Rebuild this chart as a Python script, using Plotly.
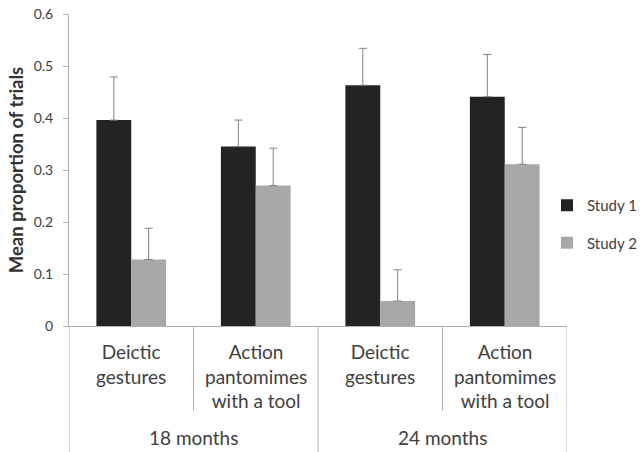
import plotly.graph_objects as go

categories = ["18-deictic", "18-action", "24-deictic", "24-action"]
category_labels = ["Deictic<br>gestures", "Action<br>pantomimes<br>with a tool",
                   "Deictic<br>gestures", "Action<br>pantomimes<br>with a tool"]
age_groups = ["18 months", "24 months"]
study1 = [0.396, 0.345, 0.463, 0.441]
study1_err = [0.083, 0.051, 0.071, 0.081]
study2 = [0.128, 0.270, 0.048, 0.311]
study2_err = [0.060, 0.072, 0.060, 0.071]
y_ticks = [0, 0.1, 0.2, 0.3, 0.4, 0.5, 0.6]
y_tick_text = ["0", "0.1", "0.2", "0.3", "0.4", "0.5", "0.6"]

FONT = "Lato"
TXT = "#404040"
LINE = "#b0b0b0"

W, H = 644, 452
L, T = 69, 14
PW, PH = 498, 312

fig = go.Figure()
fig.add_trace(go.Bar(
    name="Study 1", x=categories, y=study1,
    marker=dict(color="#232323", line=dict(width=0)),
    error_y=dict(type="data", array=study1_err, symmetric=False,
                 arrayminus=[0] * len(study1), color="#808080", thickness=1, width=4),
    legendgroup="s1",
))
fig.add_trace(go.Bar(
    name="Study 2", x=categories, y=study2,
    marker=dict(color="#a8a8a8", line=dict(width=0)),
    error_y=dict(type="data", array=study2_err, symmetric=False,
                 arrayminus=[0] * len(study2), color="#808080", thickness=1, width=4),
    legendgroup="s2",
))

annotations = []
for i, lab in enumerate(category_labels):
    annotations.append(dict(x=i, y=-0.04, xref="x", yref="paper", text=lab,
                            showarrow=False, yanchor="top", xanchor="center",
                            font=dict(family=FONT, size=19, color=TXT)))
for g, lab in enumerate(age_groups):
    annotations.append(dict(x=2 * g + 0.5, y=-0.356, xref="x", yref="paper", text=lab,
                            showarrow=False, yanchor="middle", xanchor="center",
                            font=dict(family=FONT, size=19, color=TXT)))

shapes = []
for xb, ybot in [(-0.5, -0.41), (0.5, -0.27), (1.5, -0.41), (2.5, -0.27), (3.5, -0.41)]:
    shapes.append(dict(type="line", xref="x", yref="paper", x0=xb, x1=xb, y0=0, y1=ybot,
                       line=dict(color=LINE, width=1)))

fig.update_layout(
    width=W, height=H,
    margin=dict(l=L, r=W - L - PW, t=T, b=H - T - PH, autoexpand=False),
    paper_bgcolor="white", plot_bgcolor="white",
    barmode="group", bargap=0.44, bargroupgap=0,
    font=dict(family=FONT, color=TXT),
    xaxis=dict(showticklabels=False, showline=True, linecolor=LINE, linewidth=1,
               ticks="", showgrid=False, zeroline=False, range=[-0.5, 3.5],
               automargin=False),
    yaxis=dict(range=[0, 0.6], tickvals=y_ticks, ticktext=y_tick_text, showline=True,
               linecolor=LINE, linewidth=1, ticks="outside", ticklen=5, tickcolor=LINE,
               ticklabelstandoff=7,
               showgrid=False, zeroline=False, automargin=False,
               tickfont=dict(family=FONT, size=14, color=TXT),
               title=dict(text="<b>Mean proportion of trials</b>", standoff=5,
                          font=dict(family=FONT, size=18.5, color="#333333"))),
    legend=dict(x=(547 - L) / PW, y=0.327, xanchor="left", yanchor="middle",
                font=dict(family=FONT, size=15, color=TXT),
                traceorder="grouped", tracegroupgap=15, bgcolor="rgba(0,0,0,0)"),
    annotations=annotations, shapes=shapes,
)

# remove the default 8px page margin so the figure fills the window exactly
fig.write_html("out.html", config={"displayModeBar": False},
               post_script="document.body.style.margin='0';")
